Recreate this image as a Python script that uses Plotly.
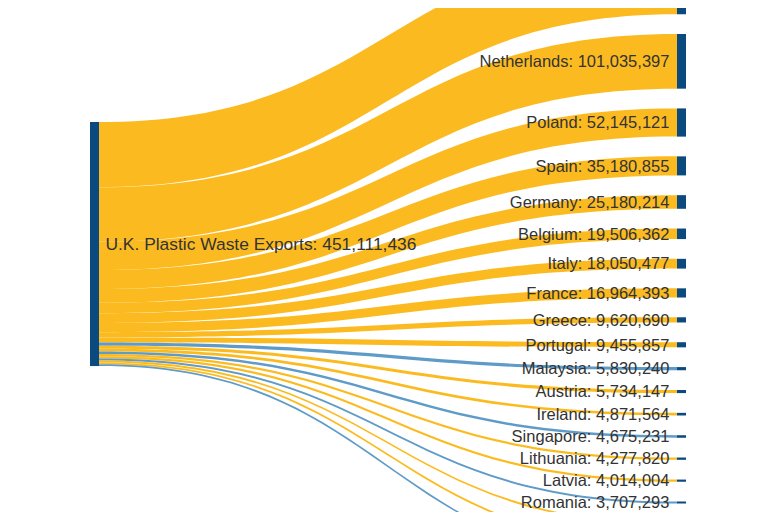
import plotly.graph_objects as go

# ---------------- data ----------------
source_name = "U.K. Plastic Waste Exports"
source_total = 451111436

countries = ["Turkey", "Netherlands", "Poland", "Spain", "Germany", "Belgium",
             "Italy", "France", "Greece", "Portugal", "Malaysia", "Austria",
             "Ireland", "Singapore", "Lithuania", "Latvia", "Romania",
             "Sweden", "Denmark", "Bulgaria"]
# Turkey and the last three are cut off in the reference (estimated)
values = [120511771, 101035397, 52145121, 35180855, 25180214, 19506362,
          18050477, 16964393, 9620690, 9455857, 5830240, 5734147,
          4871564, 4675231, 4277820, 4014004, 3707293,
          3600000, 3450000, 3300000]
oecd = [True, True, True, True, True, True,
        True, True, True, True, False, True,
        True, False, True, True, False,
        True, True, False]

# ---------------- styling / layout ----------------
W, H = 768, 512
OFF = 8.0              # page body margin
KY = 0.541e-6          # px per unit
GAP = 19.75            # visible gap between target nodes (px)
NL_TOP = 34.0 - OFF    # top of the second target node (px)
SRC_TOP = 122.0 - OFF
SRC_X = 94.5 - OFF
TGT_X = 681.5 - OFF
THICK = 9

NODE_COLOR = "#0b4a7e"
YELLOW = "rgba(251,183,20,0.95)"
BLUE = "rgba(66,138,190,0.85)"

def fmt(v):
    return f"{v:,}"

labels = ['<span style="font-size:17.4px">\u2009' + f"{source_name}: {fmt(source_total)}</span>"] + \
         [f"{c}: {fmt(v)}" + "\u00a0" for c, v in zip(countries, values)]

# node centres (computed from the values)
heights = [v * KY for v in values]
tops = [0.0] * len(values)
tops[1] = NL_TOP
for i in range(2, len(values)):
    tops[i] = tops[i - 1] + heights[i - 1] + GAP
tops[0] = NL_TOP - GAP - heights[0]
tgt_y = [(t + h / 2) / H for t, h in zip(tops, heights)]
src_y = (SRC_TOP + source_total * KY / 2) / H

node_x = [SRC_X / W] + [TGT_X / W] * len(countries)
node_y = [src_y] + tgt_y

n_right = len(countries)
pad = (H - source_total * KY) / (n_right - 1)

fig = go.Figure(go.Sankey(
    arrangement="fixed",
    domain=dict(x=[0, 1], y=[0, 1]),
    node=dict(
        label=labels,
        x=node_x,
        y=node_y,
        pad=pad,
        thickness=THICK,
        color=NODE_COLOR,
        line=dict(width=0, color=NODE_COLOR),
        hoverinfo="none",
    ),
    link=dict(
        source=[0] * len(countries),
        target=list(range(1, len(countries) + 1)),
        value=values,
        color=[YELLOW if o else BLUE for o in oecd],
        line=dict(width=0),
        hoverinfo="none",
    ),
    textfont=dict(family="Liberation Sans, Arial, sans-serif", size=16.5,
                  color="#333333", shadow="none"),
))

fig.update_layout(
    width=W, height=H,
    margin=dict(l=0, r=0, t=0, b=0),
    paper_bgcolor="white",
    plot_bgcolor="white",
)

fig.write_html("out.html")
